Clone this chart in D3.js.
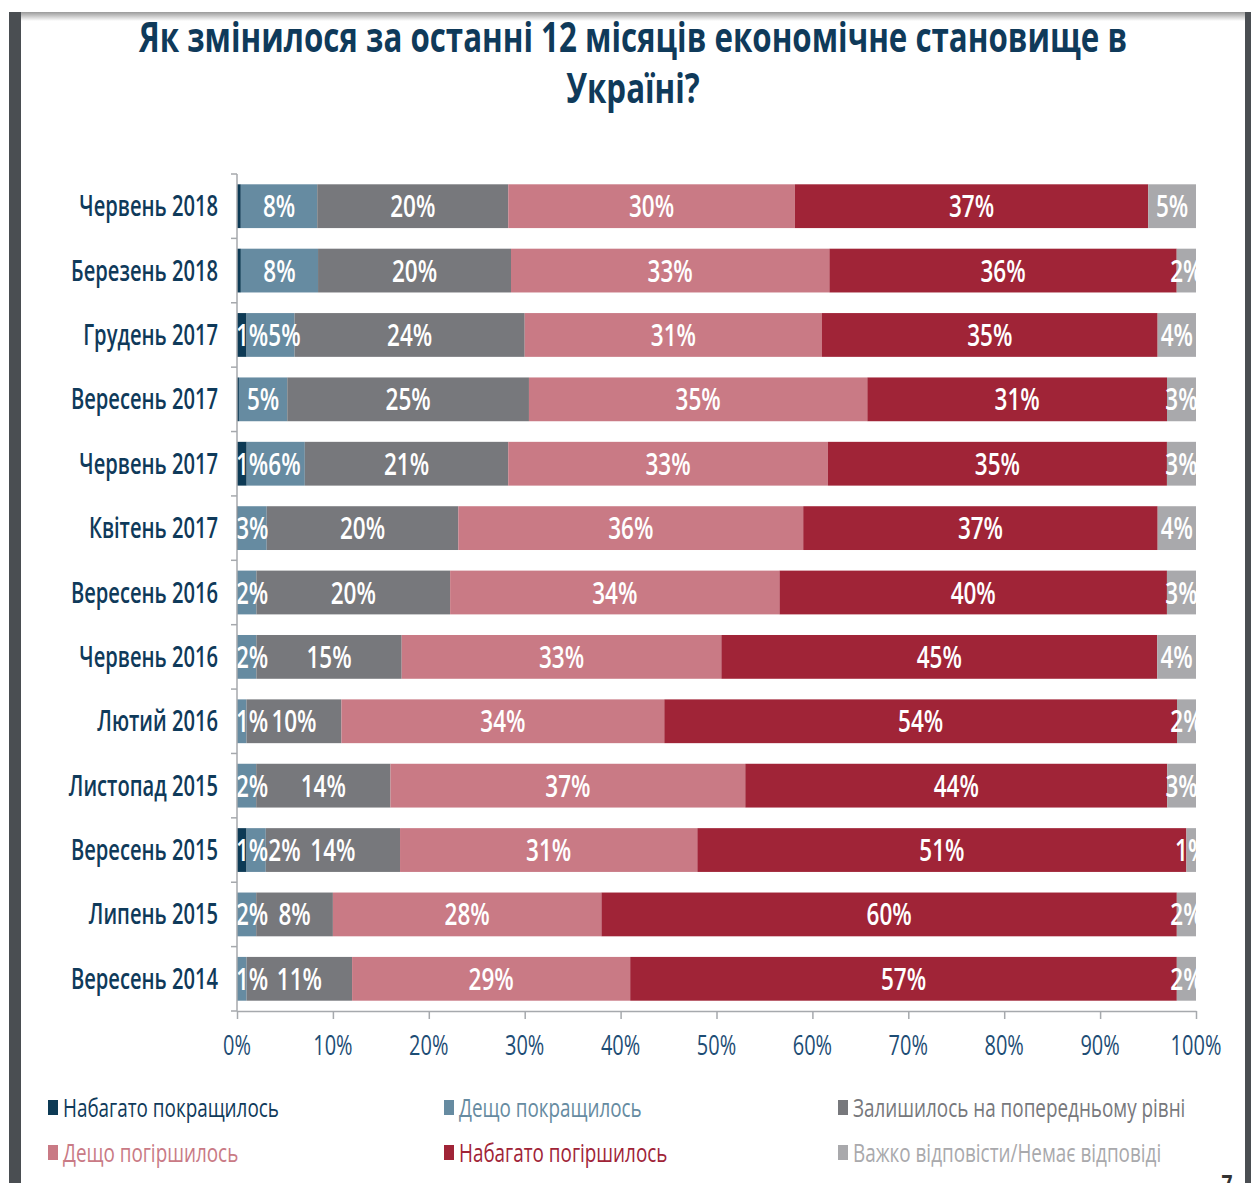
<!DOCTYPE html>
<html>
<head>
<meta charset="utf-8">
<script src="https://cdn.jsdelivr.net/npm/d3@7"></script>
<style>
  body { margin: 0; background: #fff; }
  svg { display: block; font-family: "Open Sans", "DejaVu Sans", sans-serif; }
</style>
</head>
<body>
<div id="chart"></div>
<script>
// Survey periods, top to bottom
const periods = ["Червень 2018", "Березень 2018", "Грудень 2017", "Вересень 2017", "Червень 2017",
  "Квітень 2017", "Вересень 2016", "Червень 2016", "Лютий 2016", "Листопад 2015",
  "Вересень 2015", "Липень 2015", "Вересень 2014"];

// Answer shares, % (one array per answer)
const muchBetter     = [0.4, 0.4, 1, 0.2, 1, 0.1, 0, 0, 0, 0, 1, 0, 0];
const somewhatBetter = [8, 8, 5, 5, 6, 3, 2, 2, 1, 2, 2, 2, 1];
const same           = [20, 20, 24, 25, 21, 20, 20, 15, 10, 14, 14, 8, 11];
const somewhatWorse  = [30, 33, 31, 35, 33, 36, 34, 33, 34, 37, 31, 28, 29];
const muchWorse      = [37, 36, 35, 31, 35, 37, 40, 45, 54, 44, 51, 60, 57];
const hardToSay      = [5, 2, 4, 3, 3, 4, 3, 4, 2, 3, 1, 2, 2];

const seriesNames = ["Набагато покращилось", "Дещо покращилось", "Залишилось на попередньому рівні",
  "Дещо погіршилось", "Набагато погіршилось", "Важко відповісти/Немає відповіді"];
const seriesValues = [muchBetter, somewhatBetter, same, somewhatWorse, muchWorse, hardToSay];
const colors = ["#0d3a55", "#668ba1", "#77787c", "#c97a85", "#a02437", "#a9a9ac"];

const title = ["Як змінилося за останні 12 місяців економічне становище в", "Україні?"];

const W = 1251, H = 1183;
const navy = "#0f3a5a";

const svg = d3.select("#chart").append("svg")
  .attr("width", W)
  .attr("height", H);

// slide frame
const defs = svg.append("defs");
const grad = defs.append("linearGradient").attr("id", "topfade")
  .attr("x1", 0).attr("y1", 0).attr("x2", 0).attr("y2", 1);
grad.append("stop").attr("offset", "0%").attr("stop-color", "#9a9a9a");
grad.append("stop").attr("offset", "100%").attr("stop-color", "#ffffff");
svg.append("rect").attr("x", 9).attr("y", 12).attr("width", 1240).attr("height", 9).attr("fill", "url(#topfade)");
svg.append("rect").attr("x", 9).attr("y", 12).attr("width", 12).attr("height", H).attr("fill", "#4a4e52");
svg.append("rect").attr("x", 1245).attr("y", 12).attr("width", 6).attr("height", H).attr("fill", "#4a4e52");

// condensed text: squeeze horizontally around the anchor point
function ctext(g, x, y, str, k) {
  return g.append("text")
    .attr("transform", `translate(${x},${y}) scale(${k},1)`)
    .text(str);
}

// title
title.forEach((t, i) => {
  ctext(svg, 633, 52 + i * 51, t, 0.745)
    .attr("text-anchor", "middle")
    .attr("font-size", 42)
    .attr("font-weight", 700)
    .attr("fill", navy);
});

// scales
const x = d3.scaleLinear().domain([0, 1]).range([237, 1196]);
const y = d3.scaleBand().domain(periods).range([174, 1011])
  .paddingInner(0.32).paddingOuter(0.16);

const rows = periods.map((p, i) => {
  const r = { period: p };
  seriesNames.forEach((s, j) => { r[s] = seriesValues[j][i]; });
  return r;
});

const stack = d3.stack().keys(seriesNames).offset(d3.stackOffsetExpand);
const layers = stack(rows);

const g = svg.append("g");

// bars
const layerG = g.selectAll("g.layer")
  .data(layers)
  .join("g")
  .attr("class", "layer")
  .attr("fill", (d, i) => colors[i]);

layerG.selectAll("rect")
  .data(d => d)
  .join("rect")
  .attr("x", d => x(d[0]))
  .attr("y", d => y(d.data.period))
  .attr("width", d => Math.max(0, x(d[1]) - x(d[0])))
  .attr("height", y.bandwidth());

// value labels, centred in their segment; tiny ones nudged right so they don't collide
const LK = 0.75;
periods.forEach((p, i) => {
  let lastRight = -Infinity;
  layers.forEach(layer => {
    const d = layer[i];
    const v = d.data[layer.key];
    if (v < 1) return;
    const t = ctext(g, 0, 0, v + "%", LK)
      .attr("text-anchor", "middle")
      .attr("font-size", 30)
      .attr("font-weight", 600)
      .attr("fill", "#fff");
    const w = t.node().getComputedTextLength() * LK;
    let cx = (x(d[0]) + x(d[1])) / 2;
    if (cx - w / 2 < x(0) - 1) cx = x(0) - 1 + w / 2;
    if (cx - w / 2 < lastRight) cx = lastRight + w / 2;
    lastRight = cx + w / 2;
    t.attr("transform", `translate(${cx},${y(p) + y.bandwidth() / 2 + 11}) scale(${LK},1)`);
  });
});

// x axis
const axisColor = "#a6a9ad";
const xAxis = g.append("g")
  .attr("transform", `translate(0,${y.range()[1]})`)
  .call(d3.axisBottom(x).ticks(10).tickFormat(d3.format(".0%")).tickSize(8).tickSizeOuter(0));
xAxis.select(".domain").attr("stroke", axisColor).attr("stroke-width", 1.5);
xAxis.selectAll(".tick line").attr("stroke", axisColor).attr("stroke-width", 1.5);
xAxis.selectAll(".tick text").remove();
x.ticks(10).forEach(t => {
  ctext(g, x(t), 1055, d3.format(".0%")(t), 0.74)
    .attr("text-anchor", "middle")
    .attr("font-size", 27)
    .attr("fill", "#1d4d75");
});

// y axis: line plus ticks at band boundaries
const step = y.step();
const bounds = periods.map(p => y(p) - step * y.paddingInner() / 2);
bounds.push(y.range()[1]);
g.append("line")
  .attr("x1", x(0)).attr("x2", x(0))
  .attr("y1", y.range()[0]).attr("y2", y.range()[1])
  .attr("stroke", axisColor).attr("stroke-width", 1.5);
g.selectAll("line.ytick")
  .data(bounds)
  .join("line")
  .attr("class", "ytick")
  .attr("x1", x(0) - 6).attr("x2", x(0))
  .attr("y1", d => d).attr("y2", d => d)
  .attr("stroke", axisColor).attr("stroke-width", 1.5);

// category labels
periods.forEach(p => {
  ctext(g, 218, y(p) + y.bandwidth() / 2 + 10, p, 0.72)
    .attr("text-anchor", "end")
    .attr("font-size", 28)
    .attr("font-weight", 600)
    .attr("fill", navy);
});

// legend
const legX = [48, 444, 838];
const legY = [1108, 1153];
seriesNames.forEach((s, i) => {
  const lx = legX[i % 3], ly = legY[Math.floor(i / 3)];
  svg.append("rect")
    .attr("x", lx).attr("y", ly - 8)
    .attr("width", 10).attr("height", 15)
    .attr("fill", colors[i]);
  ctext(svg, lx + 15, ly + 9, s, 0.755)
    .attr("font-size", 25)
    .attr("fill", i === 0 ? navy : colors[i]);
});

// page number (cut by the slide edge, as in the source)
ctext(svg, 1227, 1192, "7", 0.8)
  .attr("text-anchor", "middle")
  .attr("font-size", 24)
  .attr("font-weight", 700)
  .attr("fill", "#333");
</script>
</body>
</html>
